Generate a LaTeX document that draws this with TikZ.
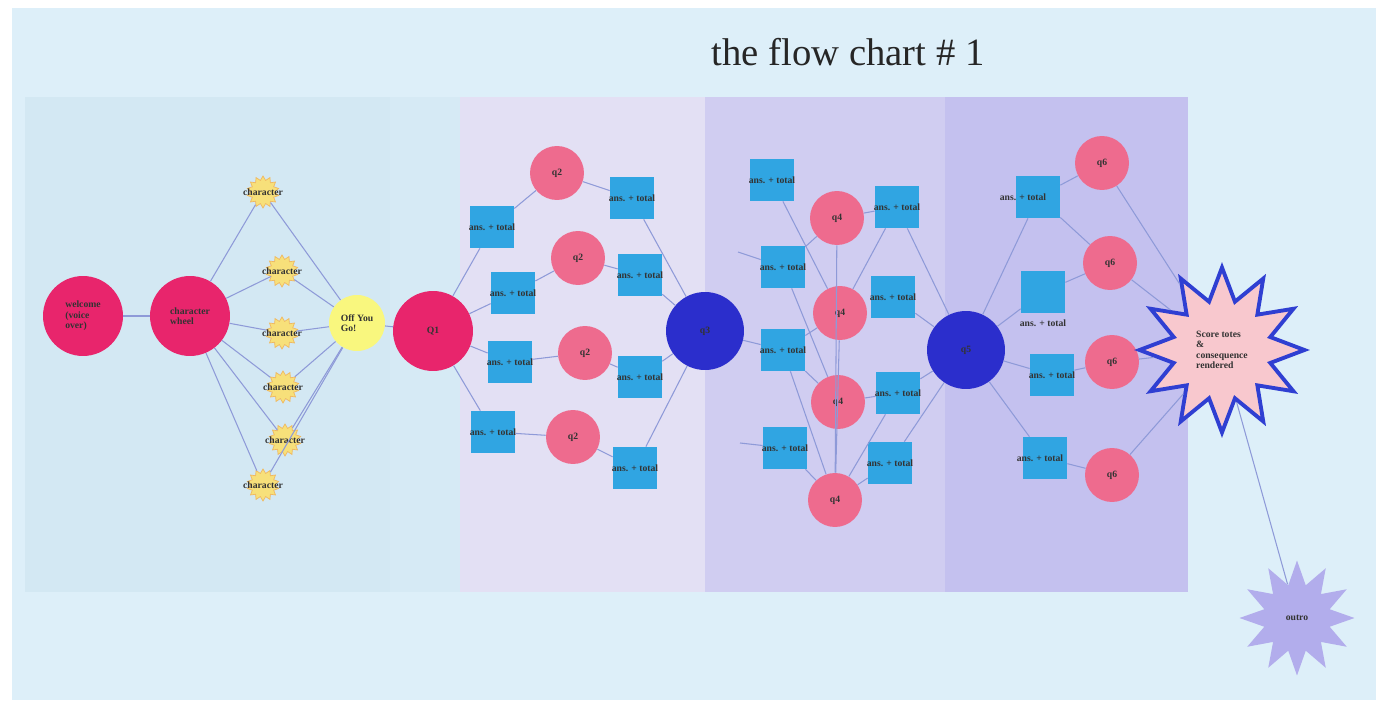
\documentclass[tikz,border=0pt]{standalone}
\usepackage{fontspec}
\setmainfont{Liberation Serif}
\usetikzlibrary{shapes.geometric}
\definecolor{frameblue}{HTML}{DDEFF9}
\definecolor{panelA}{HTML}{D3E8F3}
\definecolor{panelB}{HTML}{E3E0F4}
\definecolor{panelC}{HTML}{D0CDF1}
\definecolor{panelD}{HTML}{C4C1EF}
\definecolor{hotpink}{HTML}{E8256C}
\definecolor{softpink}{HTML}{EE6B8E}
\definecolor{deepblue}{HTML}{2B2ECC}
\definecolor{boxblue}{HTML}{30A5E2}
\definecolor{offyellow}{HTML}{F9F77E}
\definecolor{charfill}{HTML}{F7E07A}
\definecolor{charedge}{HTML}{F0B860}
\definecolor{linkcol}{HTML}{8E9AD8}
\definecolor{scorefill}{HTML}{F8C8CE}
\definecolor{scoreedge}{HTML}{2F3FD2}
\definecolor{outrofill}{HTML}{B2ADEC}
\tikzset{
  tinytext/.style={font=\fontsize{5.5}{6}\selectfont\bfseries, text=black!80},
  bigq/.style={circle, fill=hotpink, minimum size=1.6cm, inner sep=0pt, tinytext, align=left},
  smallq/.style={circle, fill=softpink, minimum size=1.08cm, inner sep=0pt, tinytext},
  blueq/.style={circle, fill=deepblue, minimum size=1.56cm, inner sep=0pt, tinytext},
  ansbox/.style={rectangle, fill=boxblue, minimum width=0.88cm, minimum height=0.84cm, inner sep=0pt},
  anslabel/.style={label={[tinytext]center:ans. + total}},
  charstar/.style={star, star points=14, star point ratio=1.35, fill=charfill, draw=charedge,
    line width=0.4pt, minimum size=0.64cm, inner sep=0pt},
  link/.style={draw=linkcol, line width=0.6pt},
}
\begin{document}
\begin{tikzpicture}[x=0.02cm, y=-0.02cm]
  \useasboundingbox (0,0) rectangle (1384,706);
  \fill[white] (0,0) rectangle (1384,706);
  \fill[frameblue] (12,8) rectangle (1376,700);
  % panels
  \fill[panelA] (25,97) rectangle (460,592);
  \fill[panelA!70!frameblue] (390,97) rectangle (460,592);
  \fill[panelB] (460,97) rectangle (705,592);
  \fill[panelC] (705,97) rectangle (945,592);
  \fill[panelD] (945,97) rectangle (1188,592);
  \node[font=\fontsize{22}{24}\selectfont, text=black!85] (title) at (848,52) {the flow chart \# 1};

  % start
  \node[bigq] (welcome) at (83,316) {welcome\\(voice\\over)};
  \node[bigq] (wheel) at (190,316) {character\\wheel};
  \node[charstar, label={[tinytext]center:character}] (c1) at (263,192) {};
  \node[charstar, label={[tinytext]center:character}] (c2) at (282,271) {};
  \node[charstar, label={[tinytext]center:character}] (c3) at (282,333) {};
  \node[charstar, label={[tinytext]center:character}] (c4) at (283,387) {};
  \node[charstar, label={[tinytext]center:character}] (c5) at (285,440) {};
  \node[charstar, label={[tinytext]center:character}] (c6) at (263,485) {};
  \node[circle, fill=offyellow, minimum size=1.12cm, inner sep=0pt, tinytext, align=left] (go) at (357,323) {Off You\\Go!};
  \node[bigq] (q1) at (433,331) {Q1};

  % q2 block
  \node[ansbox, anslabel] (a1) at (492,227) {};
  \node[ansbox, anslabel] (a2) at (513,293) {};
  \node[ansbox, anslabel] (a3) at (510,362) {};
  \node[ansbox, anslabel] (a4) at (493,432) {};
  \node[smallq] (q2a) at (557,173) {q2};
  \node[smallq] (q2b) at (578,258) {q2};
  \node[smallq] (q2c) at (585,353) {q2};
  \node[smallq] (q2d) at (573,437) {q2};
  \node[ansbox, anslabel] (b1) at (632,198) {};
  \node[ansbox, anslabel] (b2) at (640,275) {};
  \node[ansbox, anslabel] (b3) at (640,377) {};
  \node[ansbox, anslabel] (b4) at (635,468) {};
  \node[blueq] (q3) at (705,331) {q3};

  % q4 block
  \node[ansbox, anslabel] (d1) at (772,180) {};
  \node[ansbox, anslabel] (d2) at (783,267) {};
  \node[ansbox, anslabel] (d3) at (783,350) {};
  \node[ansbox, anslabel] (d4) at (785,448) {};
  \node[smallq] (q4a) at (837,218) {q4};
  \node[smallq] (q4b) at (840,313) {q4};
  \node[smallq] (q4c) at (838,402) {q4};
  \node[smallq] (q4d) at (835,500) {q4};
  \node[ansbox, anslabel] (e1) at (897,207) {};
  \node[ansbox, anslabel] (e2) at (893,297) {};
  \node[ansbox, anslabel] (e3) at (898,393) {};
  \node[ansbox, anslabel] (e4) at (890,463) {};
  \node[blueq] (q5) at (966,350) {q5};

  % q6 block
  \node[ansbox, label={[tinytext, xshift=-0.3cm]center:ans. + total}] (f1) at (1038,197) {};
  \node[ansbox, label={[tinytext]below:ans. + total}] (f2) at (1043,292) {};
  \node[ansbox, anslabel] (f3) at (1052,375) {};
  \node[ansbox, label={[tinytext, xshift=-0.1cm]center:ans. + total}] (f4) at (1045,458) {};
  \node[smallq] (q6a) at (1102,163) {q6};
  \node[smallq] (q6b) at (1110,263) {q6};
  \node[smallq] (q6c) at (1112,362) {q6};
  \node[smallq] (q6d) at (1112,475) {q6};
  \node[star, star points=12, star point ratio=1.65, minimum size=3.3cm, inner sep=0pt,
    fill=scorefill, draw=scoreedge, line width=2.2pt] (score) at (1222,350) {};
  \node[tinytext, align=left, anchor=west] at (1190,350) {Score totes\\\&\\consequence\\rendered};
  \node[star, star points=12, star point ratio=1.7, minimum size=2.3cm, inner sep=0pt,
    fill=outrofill] (outro) at (1297,618) {};
  \node[tinytext] at (outro) {outro};

  % links
  \draw[link] (welcome) -- (wheel);
  \foreach \c in {c1,c2,c3,c4,c5,c6} {
    \draw[link] (wheel) -- (\c);
    \draw[link] (\c) -- (go);
  }
  \draw[link] (go) -- (q1);
  \foreach \a/\q/\b in {a1/q2a/b1, a2/q2b/b2, a3/q2c/b3, a4/q2d/b4} {
    \draw[link] (q1) -- (\a);
    \draw[link] (\a) -- (\q);
    \draw[link] (\q) -- (\b);
    \draw[link] (\b) -- (q3);
  }
  \draw[link] (q3) -- (d3);
  \draw[link] (d2) -- ++(-45,-15);
  \draw[link] (d4) -- ++(-45,-5);
  \draw[link] (d1) -- (q4b);
  \draw[link] (d2) -- (q4a);
  \draw[link] (d2) -- (q4c);
  \draw[link] (d3) -- (q4b);
  \draw[link] (d3) -- (q4c);
  \draw[link] (d3) -- (q4d);
  \draw[link] (d4) -- (q4d);
  \draw[link] (q4a) -- (e1);
  \draw[link] (q4a) -- (q4d);
  \draw[link] (q4b) -- (e1);
  \draw[link] (q4b) -- (q4d);
  \draw[link] (q4c) -- (e3);
  \draw[link] (q4d) -- (e3);
  \draw[link] (q4d) -- (e4);
  \foreach \e in {e1,e2,e3,e4}
    \draw[link] (\e) -- (q5);
  \foreach \f in {f1,f2,f3,f4}
    \draw[link] (q5) -- (\f);
  \draw[link] (f1) -- (q6a);
  \draw[link] (f1) -- (q6b);
  \draw[link] (f2) -- (q6b);
  \draw[link] (f3) -- (q6c);
  \draw[link] (f4) -- (q6d);
  \foreach \q in {q6a,q6b,q6c,q6d}
    \draw[link] (\q) -- (score);
  \draw[link] (score) -- (outro);
\end{tikzpicture}
\end{document}
